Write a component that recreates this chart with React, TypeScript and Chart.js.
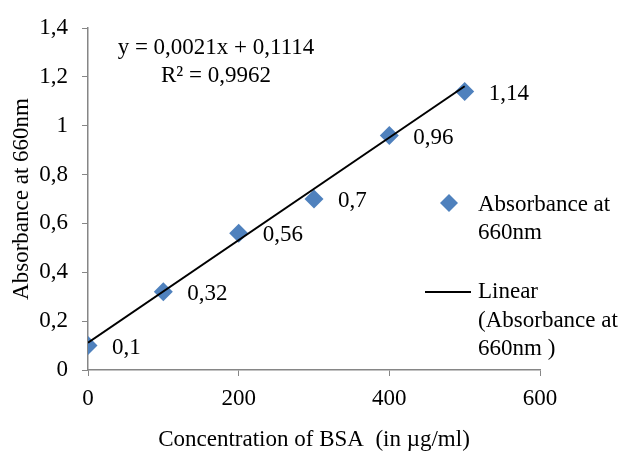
import React, { useEffect, useRef } from "react";
import { Chart, registerables } from "chart.js";

Chart.register(...registerables);

const concentrations = [0, 100, 200, 300, 400, 500];
const absorbances = [0.1, 0.32, 0.56, 0.7, 0.96, 1.14];
const pointLabels = ["0,1", "0,32", "0,56", "0,7", "0,96", "1,14"];
const trendSlope = 0.0021;
const trendIntercept = 0.1114;
const trendX = [0, 500];
const equationLines = ["y = 0,0021x + 0,1114", "R² = 0,9962"];
const seriesName = "Absorbance at 660nm";
const trendName = "Linear (Absorbance at 660nm )";
const xTitle = "Concentration of BSA  (in µg/ml)";
const yTitle = "Absorbance at 660nm";

const FONT = "'Liberation Serif', 'Times New Roman', serif";
const FS = 23;
const BLUE = "#4F81BD";
const AXIS = "#868686";

const overlay = {
  id: "overlay",
  afterDatasetsDraw(chart: any) {
    const ctx = chart.ctx;
    const xs = chart.scales.x;
    const ys = chart.scales.y;
    ctx.save();
    ctx.font = `${FS}px ${FONT}`;
    ctx.fillStyle = "#000";
    ctx.textBaseline = "middle";
    ctx.textAlign = "left";
    concentrations.forEach((c, i) => {
      const px = xs.getPixelForValue(c);
      const py = ys.getPixelForValue(absorbances[i]);
      ctx.fillText(pointLabels[i], px + 24, py + 2);
    });
    // equation
    ctx.textAlign = "center";
    ctx.fillText(equationLines[0], 216, 48);
    ctx.fillText(equationLines[1], 216, 76);
    // legend
    ctx.textAlign = "left";
    ctx.fillStyle = BLUE;
    ctx.beginPath();
    const lx = 449, ly = 203, r = 9;
    ctx.moveTo(lx, ly - r);
    ctx.lineTo(lx + r, ly);
    ctx.lineTo(lx, ly + r);
    ctx.lineTo(lx - r, ly);
    ctx.closePath();
    ctx.fill();
    ctx.fillStyle = "#000";
    ctx.fillText("Absorbance at", 478, 205);
    ctx.fillText("660nm", 478, 233);
    ctx.strokeStyle = "#000";
    ctx.lineWidth = 2;
    ctx.beginPath();
    ctx.moveTo(425, 292);
    ctx.lineTo(471, 292);
    ctx.stroke();
    ctx.fillText("Linear", 478, 292);
    ctx.fillText("(Absorbance at", 478, 321);
    ctx.fillText("660nm )", 478, 349);
    ctx.restore();
  },
};

export default function App() {
  const ref = useRef<HTMLCanvasElement>(null);
  useEffect(() => {
    if (!ref.current) return;
    const chart = new Chart(ref.current, {
      type: "scatter",
      data: {
        datasets: [
          {
            label: trendName,
            type: "line",
            data: trendX.map((x) => ({ x, y: trendIntercept + trendSlope * x })),
            borderColor: "#000",
            borderWidth: 2,
            pointRadius: 0,
            fill: false,
          },
          {
            label: seriesName,
            data: concentrations.map((x, i) => ({ x, y: absorbances[i] })),
            pointStyle: "rectRot",
            pointRadius: 9.5,
            backgroundColor: BLUE,
            borderColor: BLUE,
            borderWidth: 0,
          },
        ],
      },
      options: {
        animation: false,
        responsive: false,
        layout: { padding: { top: 28, right: 93, left: 0, bottom: 0 } },
        plugins: { legend: { display: false }, tooltip: { enabled: false } },
        scales: {
          x: {
            type: "linear",
            min: 0,
            max: 600,
            ticks: { stepSize: 200, color: "#000", font: { family: FONT, size: FS }, padding: 9 },
            grid: { drawOnChartArea: false, drawTicks: true, tickLength: 6, color: AXIS },
            border: { color: AXIS, width: 1.5 },
            title: { display: true, text: xTitle, color: "#000", font: { family: FONT, size: FS }, padding: { top: 0, bottom: 5 } },
            afterFit(s: any) { s.height = 89; },
          },
          y: {
            min: 0,
            max: 1.4,
            ticks: {
              stepSize: 0.2,
              color: "#000",
              font: { family: FONT, size: FS },
              padding: 14,
              callback: (v: any) => String(Number(Number(v).toFixed(1))).replace(".", ","),
            },
            grid: { drawOnChartArea: false, drawTicks: true, tickLength: 6, color: AXIS },
            border: { color: AXIS, width: 1.5 },
            title: { display: true, text: yTitle, color: "#000", font: { family: FONT, size: FS }, padding: { top: 8, bottom: 0 } },
            afterFit(s: any) { s.width = 88; },
          },
        },
      },
      plugins: [overlay],
    });
    return () => chart.destroy();
  }, []);
  return (
    <div style={{ position: "absolute", left: 0, top: 0, width: 633, height: 459, background: "#fff" }}>
      <canvas ref={ref} width={633} height={459} />
    </div>
  );
}
